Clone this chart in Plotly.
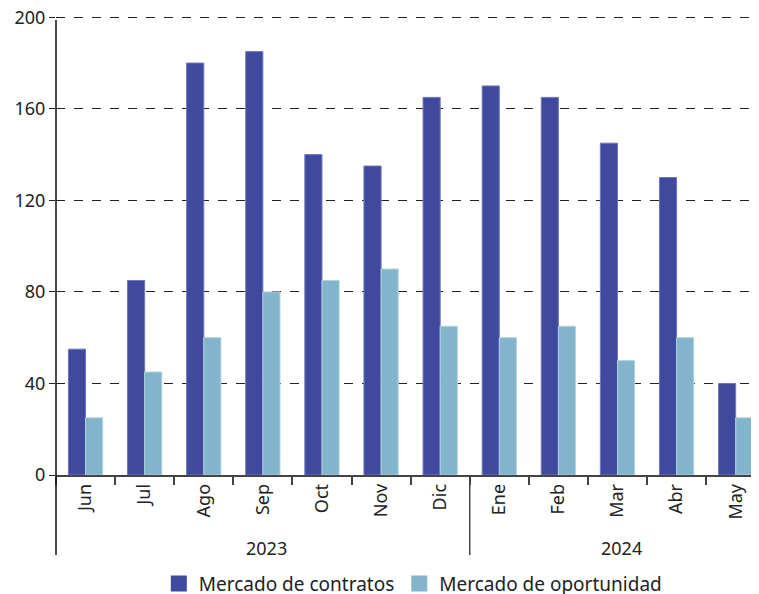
import plotly.graph_objects as go

months = ["Jun", "Jul", "Ago", "Sep", "Oct", "Nov", "Dic",
          "Ene", "Feb", "Mar", "Abr", "May"]
years = ["2023", "2024"]
year_counts = [7, 5]
contratos = [55, 85, 180, 185, 140, 135, 165, 170, 165, 145, 130, 40]
oportunidad = [25, 45, 60, 80, 85, 90, 65, 60, 65, 50, 60, 25]
series_names = ["Mercado de contratos", "Mercado de oportunidad"]

FONT = "Noto Sans"
DARK = "#3F4A9E"
LIGHT = "#82B4CB"

fig = go.Figure()
fig.add_trace(go.Bar(x=months, y=contratos, name=series_names[0], showlegend=False,
                     marker=dict(color=DARK, line=dict(color="#6F78B8", width=1))))
fig.add_trace(go.Bar(x=months, y=oportunidad, name=series_names[1], showlegend=False,
                     marker=dict(color=LIGHT, line=dict(color="#B5D3E0", width=1))))
# legend proxies with larger square swatches
for nm, col in zip(series_names, [DARK, LIGHT]):
    fig.add_trace(go.Scatter(x=[None], y=[None], mode="markers", name=nm,
                             marker=dict(symbol="square", size=17, color=col)))

# year group labels and separators
start = 0
for yr, n in zip(years, year_counts):
    center = start + (n - 1) / 2
    fig.add_annotation(x=center, y=-0.159, xref="x", yref="paper", text=yr,
                       showarrow=False, xshift=4, yanchor="middle",
                       font=dict(family=FONT, size=18, color="#222"))
    if start > 0:
        fig.add_shape(type="line", xref="x", yref="paper",
                      x0=start - 0.5, x1=start - 0.5, y0=0, y1=-0.174,
                      line=dict(color="#444", width=1.5))
    start += n
# left axis line extended down
fig.add_shape(type="line", xref="paper", yref="paper", x0=0, x1=0,
              y0=0.989, y1=-0.174, line=dict(color="#111", width=1.5))

# page body has an 8px default margin, so the figure is sized to fit inside
fig.update_layout(
    width=751, height=586,
    margin=dict(l=48, r=2, t=7, b=119, autoexpand=False),
    paper_bgcolor="white", plot_bgcolor="white",
    barmode="group", bargap=0.42, bargroupgap=0,
    font=dict(family=FONT, size=18, color="#222"),
    showlegend=True,
    legend=dict(orientation="h", x=0.509, xanchor="center", y=-0.195, yanchor="top",
                font=dict(family=FONT, size=19, color="#222"),
                itemwidth=30, traceorder="normal"),
    xaxis=dict(type="category", tickson="boundaries", ticks="outside",
               ticklen=8, tickcolor="#444", tickwidth=1.5, tickangle=-90,
               showline=True, linecolor="#444", linewidth=1.5,
               showgrid=False, range=[-0.5, 11.36], automargin=False,
               tickfont=dict(family=FONT, size=18, color="#222")),
    yaxis=dict(range=[0, 201], tickvals=[0, 40, 80, 120, 160, 200],
               showgrid=True, gridcolor="#222",
               griddash="dash", gridwidth=1, ticks="outside", ticklen=6,
               tickcolor="#222", showline=False, zeroline=False, automargin=False,
               ticklabeloverflow="allow",
               tickfont=dict(family=FONT, size=18, color="#222")),
)

fig.write_html("out.html")
